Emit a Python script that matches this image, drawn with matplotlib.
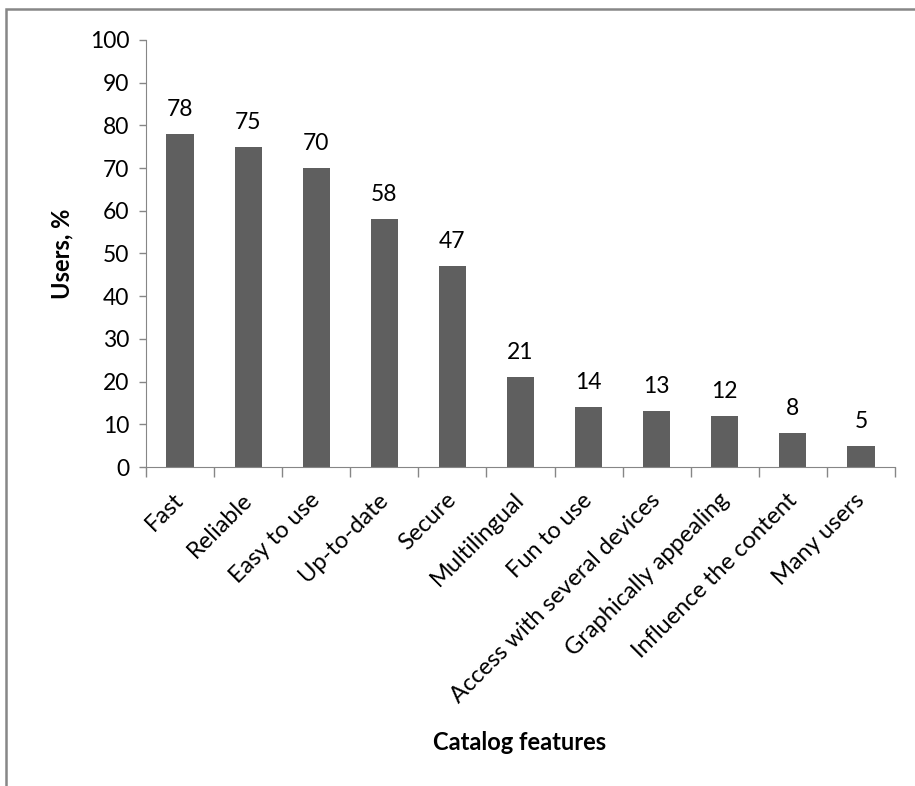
import matplotlib.pyplot as plt
from matplotlib.patches import Rectangle

features = ["Fast", "Reliable", "Easy to use", "Up-to-date", "Secure", "Multilingual",
            "Fun to use", "Access with several devices", "Graphically appealing",
            "Influence the content", "Many users"]
users_pct = [78, 75, 70, 58, 47, 21, 14, 13, 12, 8, 5]
y_ticks = list(range(0, 101, 10))

plt.rcParams['font.family'] = ['Lato', 'DejaVu Sans']

fig = plt.figure(figsize=(9.15, 7.86), dpi=100)
ax = fig.add_axes([146 / 915, 1 - 467 / 786, (895 - 146) / 915, (467 - 40) / 786])

# frame around the chart area (right/bottom edges fall outside the image)
fig.patches.append(Rectangle((6 / 915, -0.1), 1.2, 1.1 - 9.5 / 786,
                             transform=fig.transFigure, fill=False,
                             edgecolor="#878787", linewidth=1.8))

x = list(range(len(features)))
ax.bar(x, users_pct, width=0.4, color="#5f5f5f", zorder=2)
for xi, v in zip(x, users_pct):
    ax.annotate(str(v), (xi, v), xytext=(0, 13), textcoords="offset points",
                ha="center", va="baseline", fontsize=16.5)

ax.set_xlim(-0.5, len(features) - 0.5)
ax.set_ylim(0, 100)
ax.set_yticks(y_ticks)
ax.tick_params(axis="y", labelsize=16.5, length=5, width=1, color="#868686", pad=7)

# x ticks sit between the categories
ax.set_xticks([i - 0.5 for i in range(len(features) + 1)])
ax.set_xticklabels([])
ax.tick_params(axis="x", length=7, width=1, color="#868686", direction="out")
for xi, name in zip(x, features):
    ax.text(xi - 0.1, -5.2, name, rotation=45, ha="right", va="top",
            rotation_mode="anchor", fontsize=17)

for side in ["top", "right"]:
    ax.spines[side].set_visible(False)
for side in ["left", "bottom"]:
    ax.spines[side].set_color("#868686")

ax.set_ylabel("Users, %", fontsize=17, fontweight="bold", labelpad=12)
fig.text(520 / 915, 1 - 742 / 786, "Catalog features", ha="center", va="center",
         fontsize=17, fontweight="bold")

plt.savefig("out.png", dpi=100)
